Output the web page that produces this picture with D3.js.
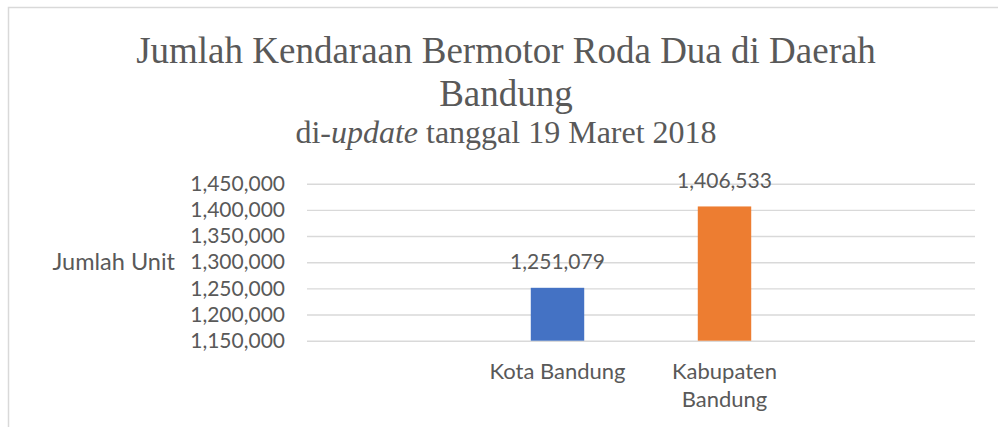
<!DOCTYPE html>
<html>
<head>
<meta charset="utf-8">
<script src="https://cdn.jsdelivr.net/npm/d3@7"></script>
<style>
  html, body { margin: 0; padding: 0; background: #fff; }
  svg { display: block; }
</style>
</head>
<body>
<div id="chart-area"></div>
<script>
// Chart data
const categories = ['', 'Kota Bandung', 'Kabupaten Bandung', ' '];
const units = [null, 1251079, 1406533, null];
const barColors = [null, '#4472C4', '#ED7D31', null];
const yTicks = [1150000, 1200000, 1250000, 1300000, 1350000, 1400000, 1450000];
const titleLines = ['Jumlah Kendaraan Bermotor Roda Dua di Daerah', 'Bandung'];
const yLabel = 'Jumlah Unit';

(function () {
    'use strict';

    const WIDTH = 998;
    const HEIGHT = 427;
    const TEXT = '#595959';
    const GRID = '#d9d9d9';
    const SANS = 'Lato, "Open Sans", sans-serif';
    const SERIF = '"Liberation Serif", "Times New Roman", serif';

    // plot area, in page pixels
    const PLOT = {LEFT: 307, RIGHT: 975, TOP: 183.7, BOTTOM: 340.7};

    const svg = d3.select('#chart-area').append('svg')
        .attr('width', WIDTH)
        .attr('height', HEIGHT);

    // chart frame (only left and top edges are visible in the crop)
    svg.append('rect')
        .attr('x', 8.5)
        .attr('y', 7.5)
        .attr('width', 1010)
        .attr('height', 440)
        .attr('fill', 'none')
        .attr('stroke', GRID)
        .attr('stroke-width', 1.5);

    // Title
    const title = svg.append('text')
        .attr('text-anchor', 'middle')
        .attr('font-family', SERIF)
        .attr('fill', TEXT);
    title.selectAll('tspan.line')
        .data(titleLines)
        .enter()
        .append('tspan')
        .attr('class', 'line')
        .attr('x', 506)
        .attr('y', (d, i) => 63 + i * 43)
        .attr('font-size', '37px')
        .text(d => d);

    // Subtitle with italic word
    const sub = svg.append('text')
        .attr('x', 506)
        .attr('y', 143)
        .attr('text-anchor', 'middle')
        .attr('font-family', SERIF)
        .attr('font-size', '32px')
        .attr('fill', TEXT);
    sub.append('tspan').text('di-');
    sub.append('tspan').attr('font-style', 'italic').text('update');
    sub.append('tspan').text(' tanggal 19 Maret 2018');

    // Scales
    const xScale = d3.scaleBand()
        .domain(categories)
        .range([PLOT.LEFT, PLOT.RIGHT])
        .paddingInner(0.68)
        .paddingOuter(0.34);

    const yScale = d3.scaleLinear()
        .domain([yTicks[0], yTicks[yTicks.length - 1]])
        .range([PLOT.BOTTOM, PLOT.TOP]);

    // Gridlines
    svg.append('g')
        .attr('class', 'grid')
        .attr('transform', `translate(${PLOT.LEFT},0)`)
        .call(d3.axisLeft(yScale).tickValues(yTicks).tickSize(-(PLOT.RIGHT - PLOT.LEFT)).tickFormat(''))
        .call(g => g.select('.domain').remove())
        .call(g => g.selectAll('line').attr('stroke', GRID).attr('stroke-width', 1.4));

    // Y Axis labels
    svg.append('g')
        .attr('class', 'y axis')
        .attr('transform', `translate(285,0)`)
        .call(d3.axisLeft(yScale).tickValues(yTicks).tickSize(0).tickPadding(0).tickFormat(d3.format(',')))
        .call(g => g.select('.domain').remove())
        .call(g => g.selectAll('text')
            .attr('fill', TEXT)
            .attr('font-family', SANS)
            .attr('font-size', '21px'));

    // Y axis title
    svg.append('text')
        .attr('x', 175)
        .attr('y', yScale(1300000))
        .attr('dy', '0.35em')
        .attr('text-anchor', 'end')
        .attr('font-family', SANS)
        .attr('font-size', '23.5px')
        .attr('fill', TEXT)
        .text(yLabel);

    const data = categories.map((c, i) => ({name: c, value: units[i], color: barColors[i]}))
        .filter(d => d.value !== null);

    // Bars
    svg.selectAll('rect.bar')
        .data(data)
        .enter()
        .append('rect')
        .attr('class', 'bar')
        .attr('x', d => xScale(d.name))
        .attr('y', d => yScale(d.value))
        .attr('width', xScale.bandwidth())
        .attr('height', d => PLOT.BOTTOM - yScale(d.value))
        .attr('fill', d => d.color);

    // Value labels
    svg.selectAll('text.value')
        .data(data)
        .enter()
        .append('text')
        .attr('class', 'value')
        .attr('x', d => xScale(d.name) + xScale.bandwidth() / 2)
        .attr('y', d => yScale(d.value) - 18.5)
        .attr('text-anchor', 'middle')
        .attr('font-family', SANS)
        .attr('font-size', '21px')
        .attr('fill', TEXT)
        .text(d => d3.format(',')(d.value));

    // Category labels, wrapped when wider than the band step
    const step = xScale.step();
    svg.selectAll('text.cat')
        .data(categories.filter(c => c.trim() !== ''))
        .enter()
        .append('text')
        .attr('class', 'cat')
        .attr('text-anchor', 'middle')
        .attr('font-family', SANS)
        .attr('font-size', '22px')
        .attr('fill', TEXT)
        .each(function (d) {
            const el = d3.select(this);
            const cx = xScale(d) + xScale.bandwidth() / 2;
            const probe = el.append('tspan').text(d);
            const w = probe.node().getComputedTextLength();
            probe.remove();
            const lines = w > step - 10 ? d.split(' ') : [d];
            lines.forEach((t, i) => {
                el.append('tspan')
                    .attr('x', cx)
                    .attr('y', 379 + i * 28)
                    .text(t);
            });
        });
})();
</script>
</body>
</html>
